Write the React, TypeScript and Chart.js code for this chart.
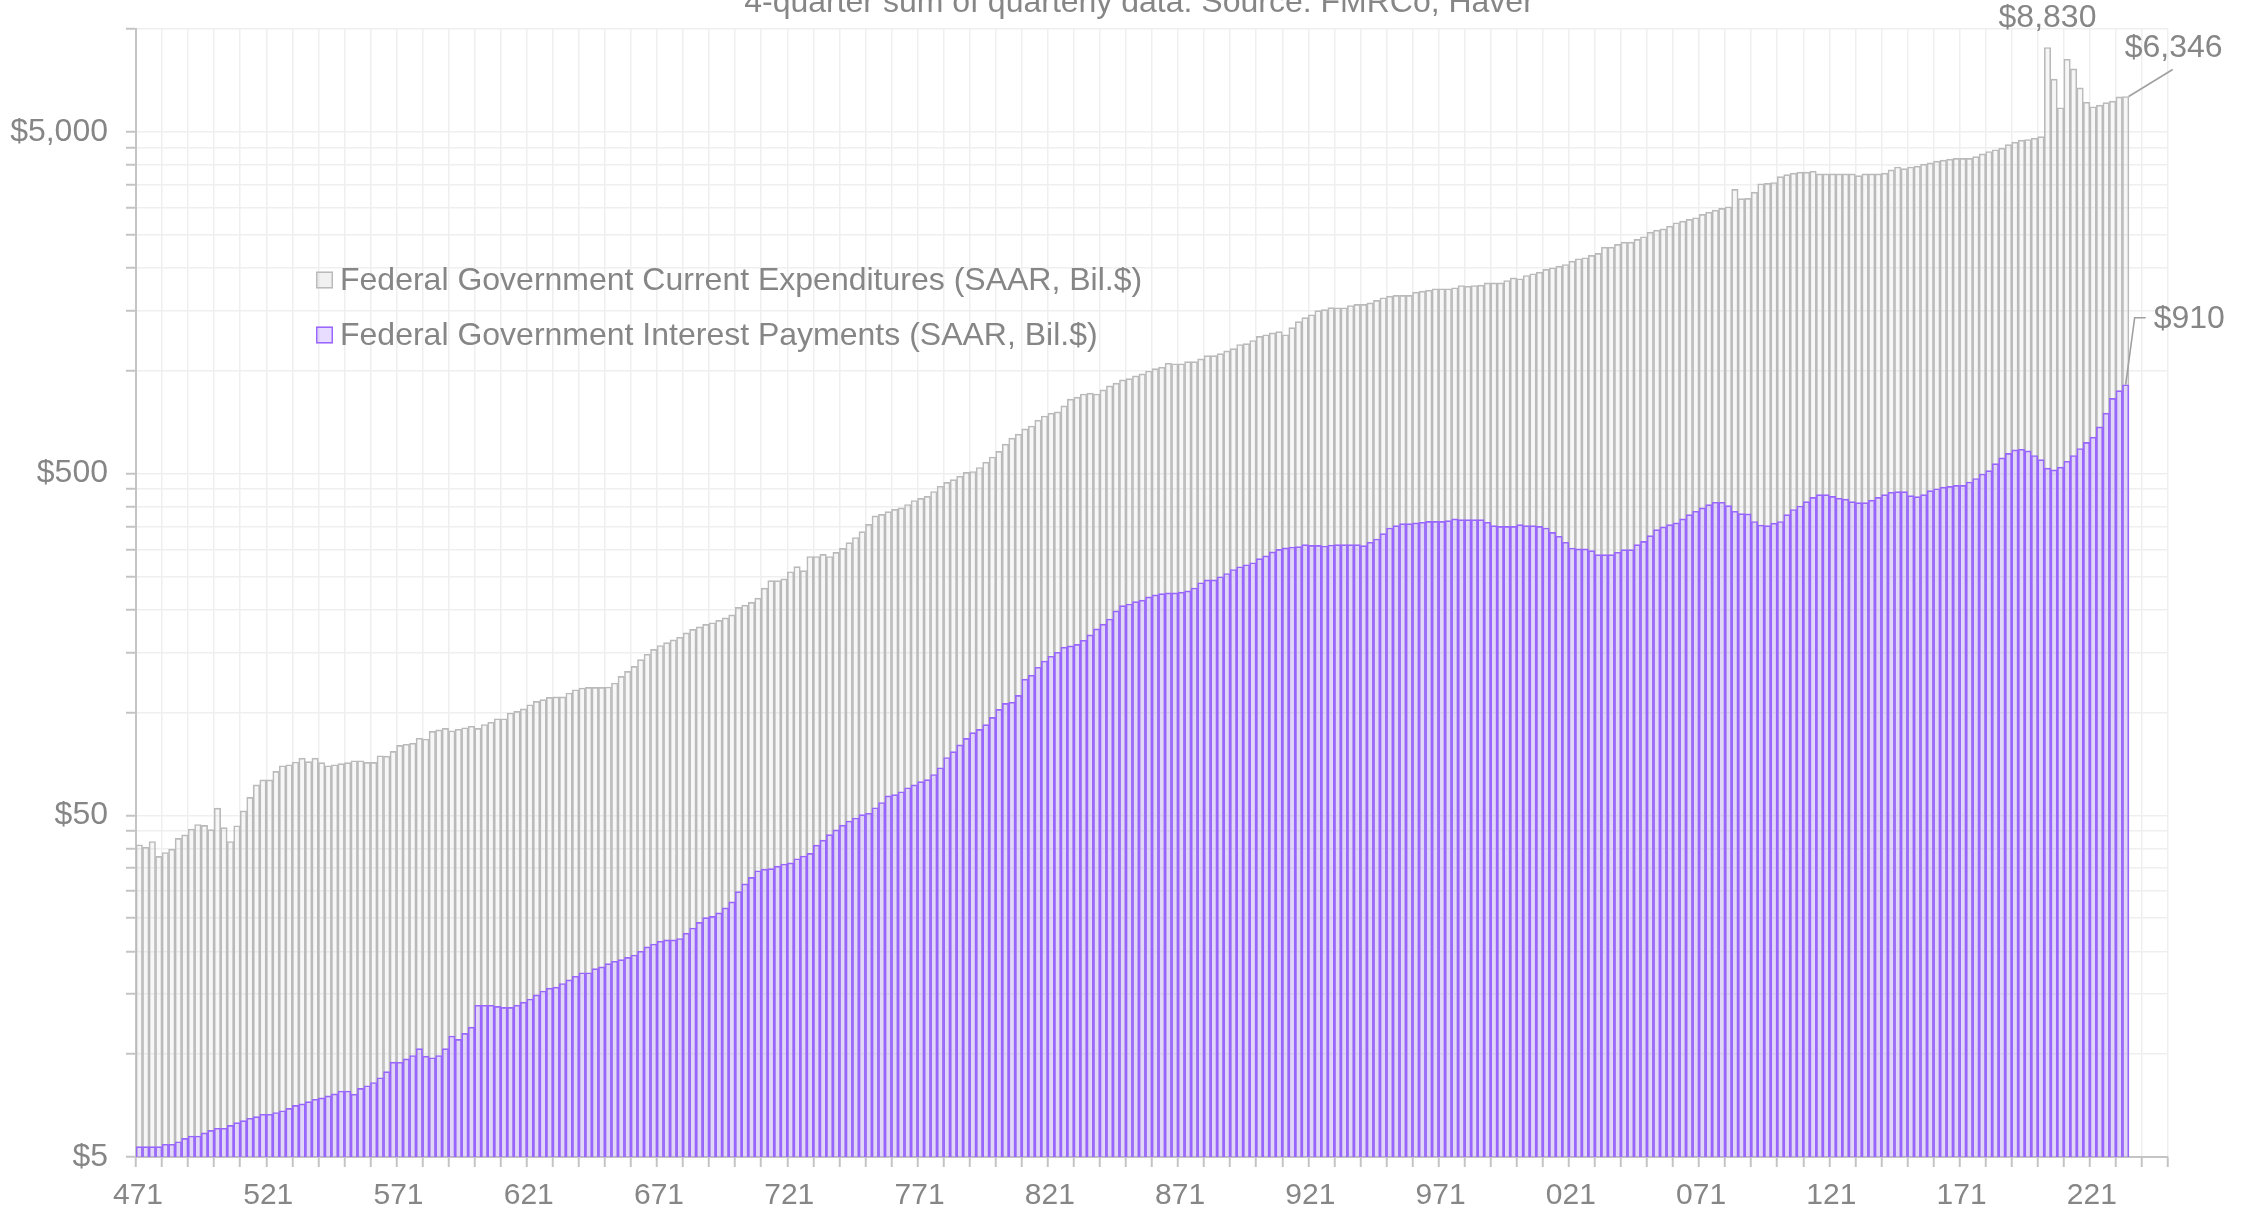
import React, { useEffect, useRef } from 'react';
import { Chart, registerables } from 'chart.js';

Chart.register(...registerables);

// ---------------- data ----------------
const firstYear = 1947;
const axisQuarters = 312; // x axis runs from 1947Q1 to 2025Q1

// Federal Government Current Expenditures (SAAR, Bil.$), quarterly from 1947Q1
const expenditures: number[] = [
  41.0, 40.3, 41.9, 37.9, // 1947
  38.9, 39.8, 42.8, 43.8,
  45.6, 47.0, 46.7, 45.4,
  52.5, 46.0, 41.9, 46.6, // 1950
  51.5, 56.4, 61.4, 63.5,
  63.5, 67.2, 69.8, 70.3,
  71.6, 73.5, 71.8, 73.5,
  71.3, 69.8, 70.3, 70.8,
  71.3, 72.2, 72.2, 71.4, // 1955
  71.4, 74.7, 74.5, 76.9,
  80.1, 80.7, 81.3, 84.1,
  83.6, 88.0, 88.9, 89.8,
  88.4, 89.3, 90.2, 91.1,
  89.8, 92.2, 93.6, 95.8, // 1960
  95.8, 99.6, 100.7, 102.4,
  105.3, 107.7, 109.0, 110.7,
  111.0, 111.0, 114.0, 116.5,
  117.9, 118.4, 118.4, 118.4,
  118.7, 121.9, 127.5, 131.8, // 1965
  136.4, 142.7, 148.0, 153.0,
  157, 160, 163, 166,
  171, 175, 178, 181,
  183, 186, 189, 193,
  203, 206, 210, 216, // 1970
  231, 243, 243, 246,
  258, 267, 260, 286,
  286, 290, 286, 294,
  302, 314, 325, 338,
  355, 376, 380, 387, // 1975
  393, 397, 406, 417,
  423, 429, 443, 459,
  471, 480, 491, 504,
  507, 521, 540, 559,
  581, 610, 635, 652, // 1980
  676, 689, 717, 737,
  751, 758, 789, 826,
  837, 855, 860, 855,
  879, 903, 920, 940,
  948, 966, 979, 998, // 1985
  1014, 1025, 1053, 1048,
  1048, 1063, 1063, 1083,
  1107, 1107, 1122, 1143,
  1161, 1193, 1200, 1226,
  1260, 1274, 1291, 1302, // 1990
  1274, 1337, 1392, 1430,
  1458, 1499, 1510, 1530,
  1528, 1528, 1552, 1563,
  1563, 1580, 1606, 1635,
  1653, 1661, 1661, 1661, // 1995
  1698, 1710, 1721, 1737,
  1737, 1737, 1749, 1776,
  1768, 1776, 1780, 1808,
  1808, 1808, 1837, 1870,
  1858, 1900, 1922, 1943, // 2000
  1979, 2001, 2023, 2046,
  2093, 2126, 2141, 2175,
  2204, 2300, 2300, 2342,
  2379, 2379, 2422, 2466,
  2544, 2579, 2602, 2649, // 2005
  2710, 2741, 2772, 2803,
  2867, 2912, 2952, 2985,
  3019, 3394, 3187, 3195,
  3330, 3525, 3532, 3555,
  3700, 3750, 3785, 3810, // 2010
  3810, 3839, 3767, 3767,
  3767, 3767, 3767, 3767,
  3724, 3767, 3767, 3767,
  3785, 3872, 3947, 3901,
  3947, 3965, 4021, 4057, // 2015
  4104, 4134, 4162, 4181,
  4181, 4181, 4230, 4311,
  4381, 4431, 4483, 4589,
  4664, 4728, 4750, 4795,
  4841, 8830, 7130, 5884, // 2020
  8158, 7643, 6725, 6104,
  5922, 5990, 6087, 6150,
  6330, 6346, // 2023
];

// Federal Government Interest Payments (SAAR, Bil.$), quarterly from 1947Q1
const interestPayments: number[] = [
  5.36, 5.36, 5.36, 5.36, // 1947
  5.45, 5.45, 5.54, 5.67,
  5.76, 5.76, 5.88, 5.98,
  6.07, 6.07, 6.19, 6.30, // 1950
  6.39, 6.49, 6.56, 6.67,
  6.67, 6.75, 6.83, 6.94,
  7.08, 7.15, 7.26, 7.38,
  7.45, 7.55, 7.65, 7.80,
  7.80, 7.64, 7.94, 8.08, // 1955
  8.26, 8.53, 8.89, 9.48,
  9.47, 9.69, 9.91, 10.38,
  9.87, 9.76, 9.91, 10.38,
  11.3, 11.04, 11.5, 12.0,
  13.9, 13.9, 13.9, 13.8, // 1960
  13.7, 13.7, 13.9, 14.2,
  14.5, 14.9, 15.3, 15.6,
  15.7, 16.1, 16.5, 16.9,
  17.3, 17.3, 17.8, 18.0,
  18.4, 18.7, 18.9, 19.2, // 1965
  19.5, 20.0, 20.6, 21.0,
  21.4, 21.6, 21.6, 21.8,
  22.6, 23.4, 24.3, 25.1,
  25.3, 25.9, 26.8, 27.9,
  29.9, 31.5, 32.9, 34.4, // 1970
  34.8, 34.9, 35.5, 36.0,
  36.3, 37.3, 38.0, 38.7,
  40.9, 42.3, 43.9, 45.3,
  46.8, 48.1, 49.1, 50.2,
  50.7, 52.6, 54.5, 57.0, // 1975
  57.5, 58.6, 60.2, 61.4,
  62.7, 63.6, 65.8, 68.9,
  73.8, 76.8, 80.4, 84.0,
  87.3, 89.2, 92.1, 96.7,
  102.1, 106.3, 107.2, 112.2, // 1980
  125.1, 128.5, 135.6, 141.4,
  146.0, 150.0, 155.3, 156.6,
  158.2, 162.6, 168.6, 175.5,
  181.3, 187.7, 198.2, 205.4,
  207.6, 211.0, 213.2, 217.8, // 1985
  220.8, 222.6, 223.8, 223.8,
  225.0, 226.8, 231.2, 239.6,
  244.2, 244.2, 249.5, 255.0,
  261.9, 266.9, 270.5, 274.2,
  281.8, 287.2, 295.1, 299.9, // 1990
  303.1, 304.8, 305.6, 309.8,
  308.1, 308.1, 307.0, 309.0,
  309.8, 309.8, 309.8, 309.8,
  307.7, 314.7, 321.8, 333.6,
  346.6, 352.1, 356.9, 356.9, // 1995
  358.5, 360.1, 362.5, 362.5,
  362.5, 364.2, 368.3, 366.7,
  366.7, 366.7, 366.7, 360.1,
  352.1, 350.5, 350.5, 350.5,
  354.5, 352.1, 352.1, 350.5, // 2000
  346.6, 336.6, 327.7, 314.7,
  302.9, 300.9, 300.9, 297.5,
  289.6, 289.6, 289.6, 294.2,
  299.5, 299.5, 309.8, 316.8,
  329.2, 342.7, 349.0, 354.5, // 2005
  358.5, 368.3, 379.3, 388.0,
  396.8, 405.8, 412.1, 412.1,
  403.0, 388.0, 381.8, 381.0,
  362.0, 353.6, 352.1, 357.9,
  362.0, 379.3, 392.5, 401.9, // 2010
  414.0, 425.9, 433.7, 433.7,
  428.8, 423.9, 420.7, 414.0,
  411.2, 411.2, 417.9, 425.9,
  433.7, 440.8, 442.9, 442.9,
  430.8, 427.9, 433.7, 445.9, // 2015
  451.4, 456.6, 458.7, 461.8,
  461.8, 472.5, 483.8, 498.6,
  510.2, 534.5, 555.9, 573.1,
  586.3, 589.1, 582.4, 564.9,
  549.5, 518.5, 512.5, 522.1, // 2020
  543.2, 564.9, 591.9, 617.2,
  638.9, 685.0, 751.6, 830.3,
  874.2, 910.0, // 2023
];

const xTickLabels = ['471', '521', '571', '621', '671', '721', '771', '821', '871', '921', '971', '021', '071', '121', '171', '221'];
const yTickLabels: Record<number, string> = { 5: '$5', 50: '$50', 500: '$500', 5000: '$5,000' };
const yGridValues = [
  5, 10, 15, 20, 25, 30, 35, 40, 45, 50,
  100, 150, 200, 250, 300, 350, 400, 450, 500,
  1000, 1500, 2000, 2500, 3000, 3500, 4000, 4500, 5000, 10000,
];
const seriesNames = [
  'Federal Government Current Expenditures (SAAR, Bil.$)',
  'Federal Government Interest Payments (SAAR, Bil.$)',
];
const subtitle = '4-quarter sum of quarterly data. Source: FMRCo, Haver';
const quarterLabels = expenditures.map((_, i) => `${firstYear + Math.floor(i / 4)}Q${(i % 4) + 1}`);

// ---------------- style ----------------
const FONT = "'Liberation Sans', Arial, Helvetica, sans-serif";
const TEXT = '#868686';
const GREY_BORDER = 'rgb(186,186,186)';
const GREY_FILL = 'rgba(200,200,200,0.14)';
const PURPLE_BORDER = 'rgb(153,102,255)';
const PURPLE_FILL = 'rgba(153,102,255,0.22)';
const LEADER = '#a0a0a0';

const money = (v: number) => '$' + Math.round(v).toLocaleString('en-US');

const overlayPlugin = {
  id: 'overlay',
  afterDraw(chart: any) {
    const { ctx, chartArea } = chart;
    ctx.save();
    ctx.fillStyle = TEXT;

    // subtitle (partly cut off at the top, like the reference)
    ctx.font = `32px ${FONT}`;
    ctx.textAlign = 'center';
    ctx.textBaseline = 'alphabetic';
    ctx.fillText(subtitle, 1139, 12);

    // legend inside the plot
    const lx = chartArea.left + 180;
    const rows = [
      { y: chartArea.top + 251, stroke: GREY_BORDER, fill: 'rgba(200,200,200,0.25)' },
      { y: chartArea.top + 306, stroke: PURPLE_BORDER, fill: PURPLE_FILL },
    ];
    rows.forEach((r, i) => {
      ctx.fillStyle = r.fill;
      ctx.fillRect(lx, r.y - 8.5, 17, 17);
      ctx.strokeStyle = r.stroke;
      ctx.lineWidth = 1.5;
      ctx.strokeRect(lx + 0.75, r.y - 7.75, 15.5, 15.5);
      ctx.fillStyle = TEXT;
      ctx.font = `32px ${FONT}`;
      ctx.textAlign = 'left';
      ctx.textBaseline = 'middle';
      ctx.fillText(seriesNames[i], lx + 24, r.y + 1);
    });

    const greyMeta = chart.getDatasetMeta(0);
    const purpleMeta = chart.getDatasetMeta(1);

    // peak label
    let peak = 0;
    expenditures.forEach((v, i) => { if (v > expenditures[peak]) peak = i; });
    const pb = greyMeta.data[peak];
    ctx.font = `32px ${FONT}`;
    ctx.fillStyle = TEXT;
    ctx.textAlign = 'center';
    ctx.textBaseline = 'alphabetic';
    ctx.fillText(money(expenditures[peak]), pb.x, pb.y - 20);

    // last expenditures label with leader
    const lastG = expenditures.length - 1;
    const gb = greyMeta.data[lastG];
    ctx.strokeStyle = LEADER;
    ctx.lineWidth = 1.6;
    ctx.beginPath();
    ctx.moveTo(gb.x + 3, gb.y);
    ctx.lineTo(gb.x + 47, gb.y - 27);
    ctx.stroke();
    ctx.textAlign = 'left';
    ctx.fillText(money(expenditures[lastG]), gb.x - 1, gb.y - 39);

    // last interest label with leader
    const lastP = interestPayments.length - 1;
    const ib = purpleMeta.data[lastP];
    ctx.beginPath();
    ctx.moveTo(ib.x, ib.y);
    ctx.lineTo(ib.x + 9, ib.y - 67);
    ctx.lineTo(ib.x + 20, ib.y - 67);
    ctx.stroke();
    ctx.textBaseline = 'middle';
    ctx.fillText(money(interestPayments[lastP]), ib.x + 28, ib.y - 66);

    ctx.restore();
  },
};

export default function App() {
  const canvasRef = useRef<HTMLCanvasElement | null>(null);

  useEffect(() => {
    const canvas = canvasRef.current;
    if (!canvas) return;
    const chart = new Chart(canvas, {
      type: 'bar',
      data: {
        labels: quarterLabels,
        datasets: [
          {
            label: seriesNames[0],
            data: expenditures.map((v, i) => ({ x: i + 0.5, y: v })),
            backgroundColor: GREY_FILL,
            borderColor: GREY_BORDER,
            borderWidth: 1,
            grouped: false,
            order: 2,
            barPercentage: 1,
            categoryPercentage: 1,
          } as any,
          {
            label: seriesNames[1],
            data: interestPayments.map((v, i) => ({ x: i + 0.5, y: v })),
            backgroundColor: PURPLE_FILL,
            borderColor: PURPLE_BORDER,
            borderWidth: 1,
            grouped: false,
            order: 1,
            barPercentage: 1,
            categoryPercentage: 1,
          } as any,
        ],
      },
      options: {
        animation: false,
        responsive: false,
        devicePixelRatio: 1,
        layout: { padding: { top: 29, right: 91, left: 0, bottom: 0 } },
        plugins: {
          legend: { display: false },
          title: { display: false },
          tooltip: { enabled: false },
        },
        scales: {
          x: {
            type: 'linear',
            offset: false,
            min: 0,
            max: axisQuarters,
            afterBuildTicks: (scale: any) => {
              const t = [];
              for (let v = 0; v <= axisQuarters; v += 4) t.push({ value: v });
              scale.ticks = t;
            },
            afterFit: (scale: any) => {
              scale.height = 56;
              scale.paddingLeft = 0;
              scale.paddingRight = 0;
            },
            ticks: {
              autoSkip: false,
              maxRotation: 0,
              padding: 11,
              labelOffset: 2,
              color: TEXT,
              font: { family: FONT, size: 30 },
              callback: (value: any) => (value % 20 === 0 ? xTickLabels[value / 20] ?? '' : ''),
            },
            grid: { offset: false, color: '#efefef', lineWidth: 1.5, tickColor: '#c4c4c4', tickLength: 10, tickWidth: 2 },
            border: { color: '#c4c4c4', width: 2 },
          },
          y: {
            type: 'logarithmic',
            min: 5,
            max: 10000,
            afterBuildTicks: (scale: any) => {
              scale.ticks = yGridValues.map((v) => ({ value: v }));
            },
            afterFit: (scale: any) => {
              scale.width = 136;
              scale.paddingTop = 0;
              scale.paddingBottom = 0;
            },
            ticks: {
              autoSkip: false,
              padding: 18,
              color: TEXT,
              font: { family: FONT, size: 32 },
              callback: (value: any) => yTickLabels[value] ?? '',
            },
            grid: { color: '#efefef', lineWidth: 1.5, tickColor: '#c4c4c4', tickLength: 10, tickWidth: 2 },
            border: { color: '#c4c4c4', width: 2 },
          },
        },
      } as any,
      plugins: [overlayPlugin],
    });
    return () => chart.destroy();
  }, []);

  return (
    <div style={{ position: 'fixed', left: 0, top: 0, width: 2259, height: 1213, background: '#fff' }}>
      <canvas ref={canvasRef} width={2259} height={1213} style={{ width: 2259, height: 1213, display: 'block' }} />
    </div>
  );
}
